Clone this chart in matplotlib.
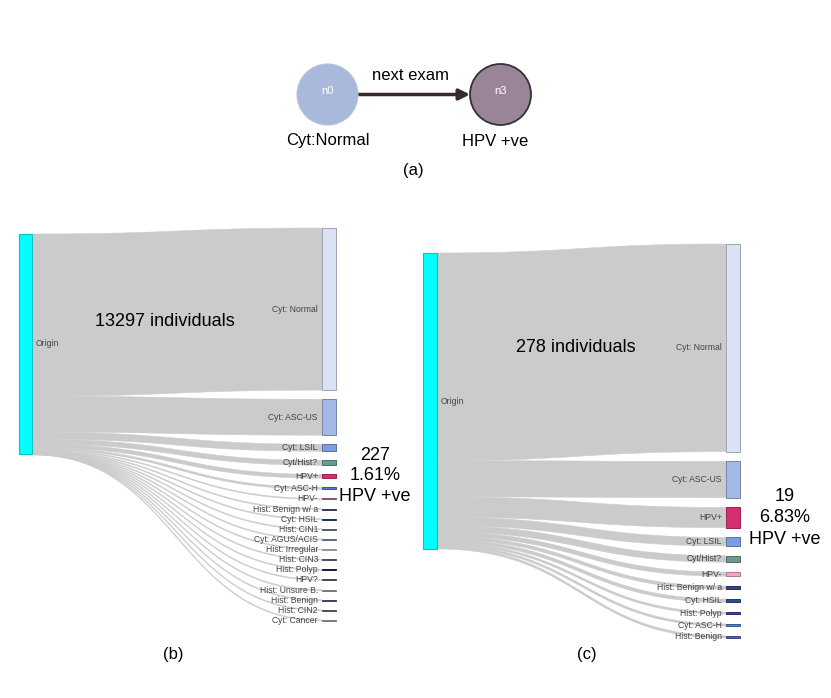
import numpy as np
import matplotlib.pyplot as plt
from matplotlib.patches import Rectangle, Circle
from matplotlib.colors import to_rgb

plt.rcParams['font.family'] = ['Liberation Sans', 'DejaVu Sans']

# panel (b): all individuals, next exam after Cyt: Normal
b_labels = ['Cyt: Normal', 'Cyt: ASC-US', 'Cyt: LSIL', 'Cyt/Hist?', 'HPV+', 'Cyt: ASC-H',
            'HPV-', 'Hist: Benign w/ a', 'Cyt: HSIL', 'Hist: CIN1', 'Cyt: AGUS/ACIS',
            'Hist: Irregular', 'Hist: CIN3', 'Hist: Polyp', 'HPV?', 'Hist: Unsure B.',
            'Hist: Benign', 'Hist: CIN2', 'Cyt: Cancer']
b_counts = [9800, 2170, 420, 295, 227, 120, 60, 40, 35, 30, 25, 15, 12, 12, 10, 8, 8, 6, 4]
b_colors = ['#dae2f4', '#a4b9e6', '#7c9ee0', '#6a9a92', '#d6306c', '#4a78cc', '#c8708f',
            '#4b4b8e', '#24457f', '#77779a', '#7f8fc0', '#c5cbe0', '#6a6a86', '#1e2466',
            '#5b6677', '#a0a6b4', '#565a9c', '#6c6c80', '#a3aac2']

# panel (c): subgroup
c_labels = ['Cyt: Normal', 'Cyt: ASC-US', 'HPV+', 'Cyt: LSIL', 'Cyt/Hist?', 'HPV-',
            'Hist: Benign w/ a', 'Cyt: HSIL', 'Hist: Polyp', 'Cyt: ASC-H', 'Hist: Benign']
c_counts = [195, 34, 19, 8, 6, 4, 3, 3, 2, 2, 2]
c_colors = ['#dae2f4', '#a4b9e6', '#d42f6e', '#7c9ee0', '#6e9890', '#f5a3cc', '#3c3f8e',
            '#2a4f8c', '#3a3fa6', '#4a80d4', '#5560b4']


def darker(c, f=0.72):
    return tuple(v * f for v in to_rgb(c))


def band(ax, x0, x1, s0, s1, t0, t1, color):
    t = np.linspace(0, 1, 80)
    xm = (x0 + x1) / 2
    bx = (1-t)**3*x0 + 3*(1-t)**2*t*xm + 3*(1-t)*t**2*xm + t**3*x1
    def by(a, b):
        return (1-t)**3*a + 3*(1-t)**2*t*a + 3*(1-t)*t**2*b + t**3*b
    top = by(s0, t0)
    bot = by(s1, t1)
    ax.fill(np.r_[bx, bx[::-1]], np.r_[top, bot[::-1]], color=color, lw=0.35, ec=color)


def sankey(ax, labels, counts, colors, ox, otop, oh, rx, rtop, rbot, w=13.5):
    scale = oh / sum(counts)
    hs = [max(c * scale, 1.0) for c in counts]
    pad = (rbot - rtop - sum(hs)) / (len(hs) - 1)
    y = rtop
    s = otop
    nodes = []
    for lab, c, h, col in zip(labels, counts, hs, colors):
        lw = max(c * scale, 1.0)
        band(ax, ox + w, rx, s, s + lw, y, y + lw, '#cbcbcb')
        nodes.append((y, h, lab, col))
        s += c * scale
        y += h + pad
    ax.add_patch(Rectangle((ox, otop), w, oh, fc='#00ffff', ec='#00c4c4', lw=0.8, zorder=3))
    ax.text(ox + w + 4, otop + oh / 2, 'Origin', fontsize=6.2, color='#444444',
            ha='left', va='center', zorder=4)
    for y0, h, lab, col in nodes:
        ax.add_patch(Rectangle((rx, y0), w, h, fc=col, ec=darker(col), lw=0.7, zorder=3))
        ax.text(rx - 4, y0 + h / 2, lab, fontsize=6.2, color='#444444',
                ha='right', va='center', zorder=4)


fig = plt.figure(figsize=(8.31, 6.98), dpi=100)
ax = fig.add_axes([0, 0, 1, 1])
ax.set_xlim(0, 831)
ax.set_ylim(698, 0)
ax.axis('off')

# (a) two-node graph
ax.add_patch(Circle((327.5, 94.5), 30.5, fc='#a9b9dc', ec='#b4c2e2', lw=0.8, zorder=3))
ax.add_patch(Circle((500.5, 94.5), 30.5, fc='#9a8497', ec='#333333', lw=1.3, zorder=3))
ax.text(327.5, 91, 'n0', color='white', fontsize=8, ha='center', va='center', zorder=4)
ax.text(500.5, 91, 'n3', color='white', fontsize=8, ha='center', va='center', zorder=4)
ax.annotate('', xy=(470, 94.5), xytext=(358, 94.5),
            arrowprops=dict(arrowstyle='-|>', color='#3b2a2a', lw=2.5, mutation_scale=16,
                            shrinkA=0, shrinkB=0), zorder=2)
ax.text(410, 76, 'next exam', fontsize=12, ha='center', va='center')
ax.text(327.5, 141, 'Cyt:Normal', fontsize=12, ha='center', va='center')
ax.text(495, 141, 'HPV +ve', fontsize=12, ha='center', va='center')
ax.text(413, 170, '(a)', fontsize=12, ha='center', va='center')

# (b) and (c) sankeys
sankey(ax, b_labels, b_counts, b_colors, 18.5, 234, 220, 322, 228, 621)
sankey(ax, c_labels, c_counts, c_colors, 423, 253, 296, 726, 244, 638)

ax.text(95, 322, '%d individuals' % sum(b_counts), fontsize=13, ha='left', va='center')
ax.text(516, 348, '%d individuals' % sum(c_counts), fontsize=13, ha='left', va='center')
ax.text(375, 476, '227\n1.61%\nHPV +ve', fontsize=13, ha='center', va='center',
        linespacing=1.3)
ax.text(785, 518, '19\n6.83%\nHPV +ve', fontsize=13, ha='center', va='center',
        linespacing=1.35)

ax.text(173, 655, '(b)', fontsize=12, ha='center', va='center')
ax.text(587, 655, '(c)', fontsize=12, ha='center', va='center')

fig.savefig('out.png', dpi=100)
